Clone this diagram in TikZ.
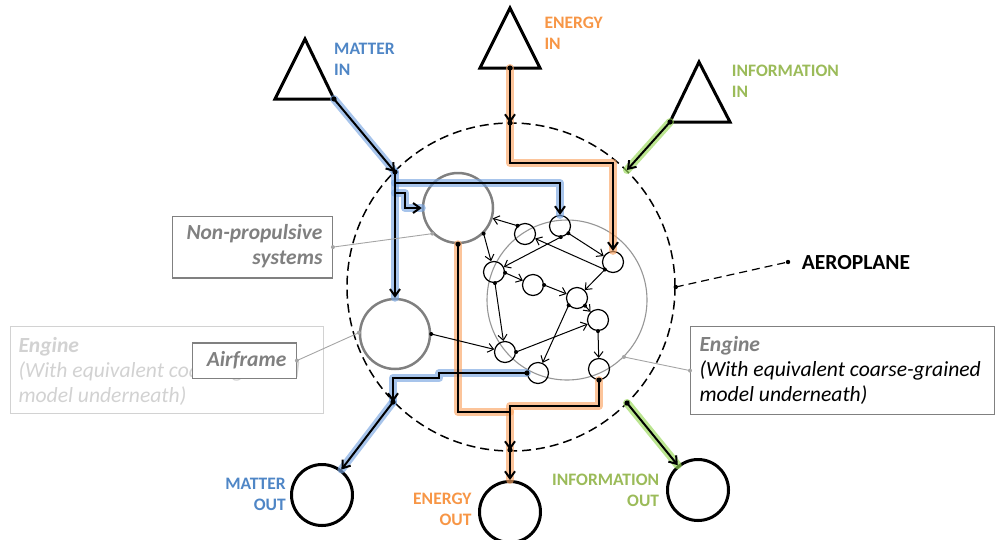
\documentclass[tikz,border=0pt]{standalone}
\usepackage{fontspec}
\setmainfont{Carlito}
\usetikzlibrary{arrows.meta}
\definecolor{mblue}{RGB}{79,134,198}
\definecolor{morange}{RGB}{247,150,70}
\definecolor{mgreen}{RGB}{155,187,89}
\definecolor{gblue}{RGB}{120,165,225}
\definecolor{gorange}{RGB}{250,165,100}
\definecolor{ggreen}{RGB}{150,215,85}
\definecolor{sgray}{RGB}{128,128,128}
\definecolor{egray}{RGB}{150,150,150}
\definecolor{cgray}{RGB}{165,165,165}
\definecolor{ghost}{RGB}{210,210,210}
\newcommand{\glowdraw}[2]{\draw[draw=#1,line width=8pt,opacity=.65,line join=round,line cap=round] #2;}
\begin{document}
\begin{tikzpicture}[x=1pt,y=-1pt,
  small/.style={circle,draw=black,line width=1.2pt,minimum size=21pt,inner sep=0pt},
  sysc/.style={circle,draw=sgray,line width=2.5pt,minimum size=70pt,inner sep=0pt},
  outc/.style={circle,draw=black,line width=3pt,minimum size=61pt,inner sep=0pt},
  net/.style={line width=1pt,-{Straight Barb[length=5.5pt,width=9pt,line width=1pt]}},
  main/.style={line width=2pt,line join=miter},
  marr/.style={main,-{Straight Barb[length=7pt,width=10pt,line width=2pt]}},
  tri/.style={line width=3pt,line join=miter},
  lbl/.style={font=\fontsize{17.5}{21}\selectfont\bfseries,inner sep=0pt},
  boxtxt/.style={font=\fontsize{21.6}{25}\selectfont\itshape,inner sep=0pt},
  gbox/.style={draw=sgray,line width=1.2pt,inner sep=0pt,anchor=north west,fill=white},
  conn/.style={draw=cgray,line width=0.9pt},
]
\useasboundingbox (0,0) rectangle (995,539);

% ghost engine box
\node[draw=ghost,line width=1.2pt,inner sep=0pt,anchor=north west,minimum width=313pt,minimum height=87pt] (ghostbox) at (10,326) {};
\node[boxtxt,text=ghost,anchor=north west,align=left] (ghosttxt) at (18.3,337.5) {\bfseries Engine\\(With equivalent coarse-grained\\model underneath)};

% main circles
\node[circle,draw=black,dash pattern=on 9pt off 5pt,line width=1.5pt,minimum size=328pt,inner sep=0pt] (plane) at (511,287) {};
\node[circle,draw=egray,line width=1.1pt,minimum size=160pt,inner sep=0pt] (eng) at (567,300) {};
\node[sysc] (NP) at (458,208) {};
\node[sysc] (AF) at (395,334) {};

% network circles
\node[small] (A) at (525,234) {};
\node[small] (B) at (560,226) {};
\node[small] (C) at (613,262) {};
\node[small] (D) at (494,272) {};
\node[small] (E) at (533,285) {};
\node[small] (F) at (577,298) {};
\node[small] (G) at (598,320) {};
\node[small] (H) at (505,352) {};
\node[small] (I) at (538,373) {};
\node[small] (J) at (599,369) {};

% outputs
\node[outc] (MO) at (322,495) {};
\node[outc] (EO) at (510,512) {};
\node[outc] (IO) at (698,490) {};

% coordinates
\coordinate (mi) at (334,99);
\coordinate (m1) at (395,172);
\coordinate (mj) at (395,183);
\coordinate (ms) at (395,193);
\coordinate (mo1) at (393,402);
\coordinate (ei) at (510,68);
\coordinate (e1) at (510,123);
\coordinate (ek) at (510,412);
\coordinate (ej) at (510,406);
\coordinate (e2) at (510,450);
\coordinate (ii) at (670,122);
\coordinate (i1) at (627,170);
\coordinate (i2) at (627,403);
\coordinate (aero) at (788,262);

% triangles
\draw[tri] (305,39) -- (275,99) -- (mi) -- cycle;
\draw[tri] (510,8) -- (480,68) -- (540,68) -- cycle;
\draw[tri] (699,62) -- (ii) -- (730,122) -- cycle;

% glows
\glowdraw{gblue}{(mi) -- (m1)}
\glowdraw{gblue}{(m1) -- (AF.north)}
\glowdraw{gblue}{(mj) -| (B.north)}
\glowdraw{gblue}{(ms) -- ++(10,0) |- (NP.west)}
\glowdraw{gblue}{(I.west) -- ++(-87.5,0) -- ++(0,5) -| (mo1)}
\glowdraw{gblue}{(mo1) -- (MO)}
\glowdraw{gorange}{(ei) -- (e1) -- ++(0,40) -| (C.north)}
\glowdraw{gorange}{(NP.south) |- (ek)}
\glowdraw{gorange}{(J.south) |- (ej) -- (e2) -- (EO.north)}
\glowdraw{ggreen}{(ii) -- (i1)}
\glowdraw{ggreen}{(i2) -- (IO)}

% matter
\draw[marr] (mi) -- (m1);
\draw[marr] (m1) -- (AF);
\draw[marr] (mj) -| (B);
\draw[marr] (ms) -- ++(10,0) |- (NP);
\draw[marr] (I.west) -- ++(-87.5,0) -- ++(0,5) -| (mo1);
\draw[marr] (mo1) -- (MO);
% energy
\draw[marr] (ei) -- (e1);
\draw[marr] (e1) -- ++(0,40) -| (C);
\draw[main] (NP.south) |- (ek);
\draw[marr] (J.south) |- (ej) -- (e2);
\draw[marr] (e2) -- (EO);
% information
\draw[marr] (ii) -- (i1);
\draw[marr] (i2) -- (IO);

\foreach \p in {mi,m1,mo1,I.west,ei,e1,e2,NP.south,J.south,ii,i2}
  \fill (\p) circle[radius=2.6pt];

% network edges
\draw[net] (A.132) -- (NP);
\draw[net] (B.-86) -- (D);
\draw[net] (B.-41) -- (C);
\draw[net] (C.-137) -- (A);
\draw[net] (C.-137) -- (F);
\draw[net] (NP.-45) -- (D);
\draw[net] (D.-4) -- (E);
\draw[net] (D.-85) -- (H);
\draw[net] (E.0) -- (F);
\draw[net] (F.-139) -- (I);
\draw[net] (F.-44) -- (G);
\draw[net] (H.0) -- (G);
\draw[net] (G.-90) -- (J);
\draw[net] (AF.0) -- (H);
\foreach \p in {A.132,B.-86,B.-41,C.-137,NP.-45,D.-4,D.-85,E.0,F.-139,F.-44,H.0,G.-90,AF.0}
  \fill (\p) circle[radius=2pt];

% aeroplane
\draw[line width=1.2pt,dash pattern=on 8pt off 5pt] (plane.east) -- (aero);
\fill (plane.east) circle[radius=2.2pt];
\fill (aero) circle[radius=2.2pt];
\node[font=\fontsize{21.5}{25}\selectfont\bfseries,inner sep=0pt,anchor=north west] (aerotxt) at (801.7,255) {AEROPLANE};

% boxes
\node[gbox,minimum width=160pt,minimum height=61.6pt] (npbox) at (171.7,215.7) {};
\node[boxtxt,font=\fontsize{21.5}{25}\selectfont\bfseries\itshape,text=sgray,anchor=north east,align=right] (nptxt) at (322.7,224) {Non-propulsive\\systems};
\node[gbox,minimum width=104pt,minimum height=35.4pt] (afbox) at (191.7,342.3) {};
\node[boxtxt,font=\fontsize{21.5}{25}\selectfont\bfseries\itshape,text=sgray,anchor=north west] (aftxt) at (206.7,351) {Airframe};
\node[gbox,minimum width=304pt,minimum height=88pt] (engbox) at (690,326) {};
\node[boxtxt,anchor=north west,align=left] (engtxt) at (699.3,336) {\textcolor{sgray}{\bfseries Engine}\\(With equivalent coarse-grained\\model underneath)};

% connectors
\draw[conn] (npbox.east) -- (NP.225);
\draw[conn] (afbox.east) -- (AF.178);
\draw[conn] (engbox.west) -- (eng.-45);
\foreach \p in {npbox.east,NP.225,afbox.east,AF.178,engbox.west,eng.-45}
  \fill[cgray] (\p) circle[radius=2pt];

% labels
\node[lbl,text=mblue,anchor=north west,align=left] (tmi) at (334,42.7) {MATTER\\IN};
\node[lbl,text=morange,anchor=north west,align=left] (tei) at (544.3,16.7) {ENERGY\\IN};
\node[lbl,text=mgreen,anchor=north west,align=left] (tii) at (731.7,65) {INFORMATION\\IN};
\node[lbl,text=mblue,anchor=north east,align=right] (tmo) at (286,478.3) {MATTER\\OUT};
\node[lbl,text=morange,anchor=north east,align=right] (teo) at (471.7,492.7) {ENERGY\\OUT};
\node[lbl,text=mgreen,anchor=north east,align=right] (tio) at (659.3,474.3) {INFORMATION\\OUT};
\end{tikzpicture}
\end{document}
